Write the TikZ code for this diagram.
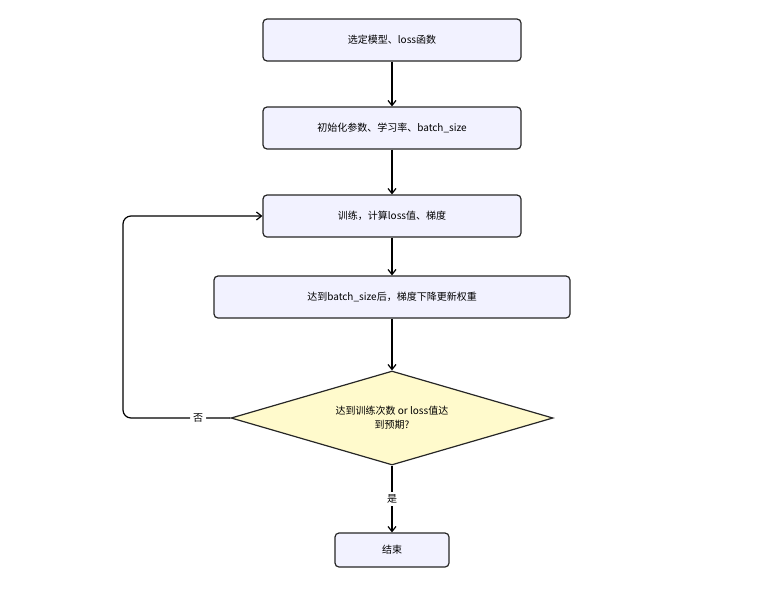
\documentclass[tikz,border=0pt]{standalone}
\usepackage{fontspec}
\setmainfont{Noto Sans CJK SC}
\usetikzlibrary{shapes.geometric,arrows.meta}
\begin{document}
\begin{tikzpicture}[x=1pt,y=-1pt,
  box/.style={draw=black!85,line width=1.2pt,rounded corners=4pt,fill=blue!5!white,minimum height=42pt,font=\fontsize{10}{12}\selectfont,inner sep=0pt},
  dia/.style={diamond,draw=black!85,line width=1.2pt,fill=orange!18!yellow!20!white,minimum width=322pt,minimum height=94pt,aspect=3.4,inner sep=0pt,align=center,font=\fontsize{10}{14}\selectfont},
  arr/.style={-{Straight Barb[length=5pt,width=8pt]},line width=1.2pt,draw=black},
  lab/.style={fill=white,font=\fontsize{10}{12}\selectfont,inner sep=3pt}]
\useasboundingbox (0,0) rectangle (783,592);
\node[box,minimum width=258pt] (a) at (392,40) {选定模型、loss函数};
\node[box,minimum width=258pt] (b) at (392,128) {初始化参数、学习率、batch\_size};
\node[box,minimum width=258pt] (c) at (392,216) {训练，计算loss值、梯度};
\node[box,minimum width=356pt] (d) at (392,297) {达到batch\_size后，梯度下降更新权重};
\node[dia] (e) at (392,418) {达到训练次数 or loss值达\\到预期?};
\node[box,minimum width=114pt,minimum height=34pt] (f) at (392,550) {结束};
\coordinate (l1) at (123,418);
\coordinate (l2) at (123,216);
\draw[arr] (a) -- (b);
\draw[arr] (b) -- (c);
\draw[arr] (c) -- (d);
\draw[arr] (d) -- (e);
\draw[arr] (e) -- node[lab]{是} (f);
\draw[arr,rounded corners=8pt] (e.west) -- node[lab,pos=0.3]{否} (l1) -- (l2) -- (c.west);
\end{tikzpicture}
\end{document}
